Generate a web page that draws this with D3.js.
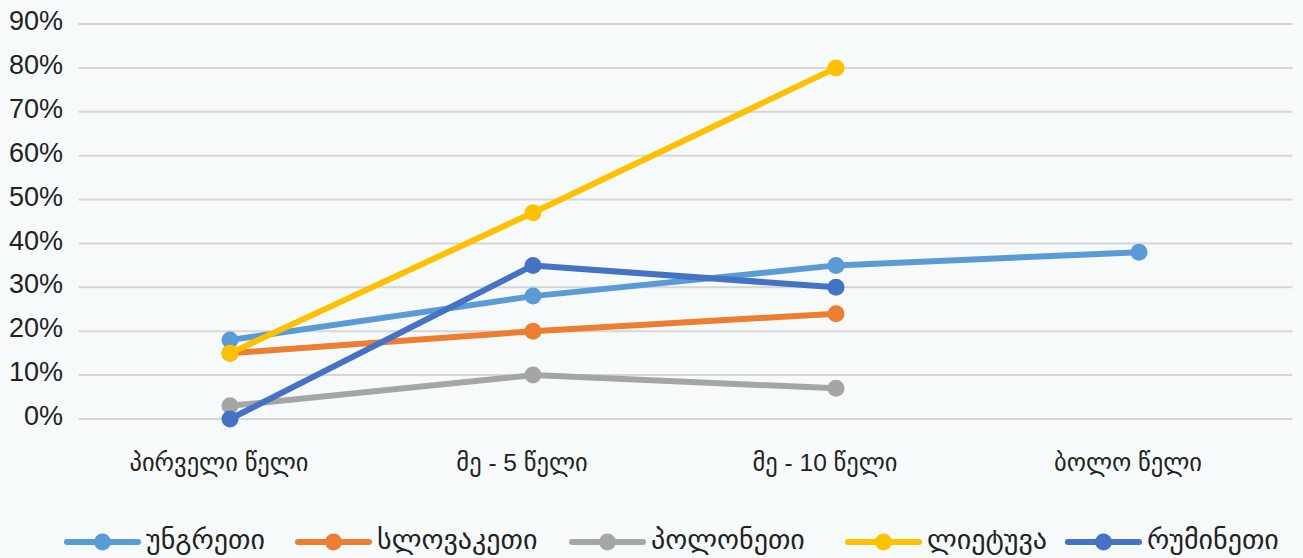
<!DOCTYPE html>
<html>
<head>
<meta charset="utf-8">
<script src="https://cdn.jsdelivr.net/npm/d3@7"></script>
<style>
  html, body { margin: 0; padding: 0; background: #f7fafb; }
  svg { display: block; }
  text { font-family: "Liberation Sans", Arial, "DejaVu Sans", sans-serif; fill: #222; }
</style>
</head>
<body>
<svg id="chart" width="1303" height="558"></svg>
<script>
// Categories (x axis) and y tick values
const categories = ["პირველი წელი", "მე - 5 წელი", "მე - 10 წელი", "ბოლო წელი"];
const yTicks = [0, 10, 20, 30, 40, 50, 60, 70, 80, 90];

// Series (percent values per category; null = no data)
const seriesNames = ["უნგრეთი", "სლოვაკეთი", "პოლონეთი", "ლიეტუვა", "რუმინეთი"];
const seriesColors = ["#5b9bd5", "#ed7d31", "#a5a5a5", "#ffc000", "#4472c4"];
const hungary   = [18, 28, 35, 38];
const slovakia  = [15, 20, 24, null];
const poland    = [3, 10, 7, null];
const lithuania = [15, 47, 80, null];
const romania   = [0, 35, 30, null];
const seriesValues = [hungary, slovakia, poland, lithuania, romania];

const svg = d3.select("#chart");
const plot = { left: 78.5, right: 1290.5, top: 24, bottom: 419 };

const x = d3.scaleBand().domain(categories).range([plot.left, plot.right]);
const y = d3.scaleLinear().domain([0, 90]).range([plot.bottom, plot.top]);

// Horizontal gridlines
svg.append("g").selectAll("line").data(yTicks).join("line")
  .attr("x1", plot.left).attr("x2", plot.right + 2)
  .attr("y1", d => y(d)).attr("y2", d => y(d))
  .attr("stroke", "#d6d6d6").attr("stroke-width", 2);

// Y axis labels
svg.append("g").selectAll("text").data(yTicks).join("text")
  .attr("x", 63).attr("y", d => y(d) - 1)
  .attr("text-anchor", "end").attr("dominant-baseline", "middle")
  .attr("font-size", 27)
  .text(d => d + "%");

// X axis labels (set slightly left of the band centre)
svg.append("g").selectAll("text").data(categories).join("text")
  .attr("x", d => x(d) + x.bandwidth() / 2 - 11).attr("y", 465)
  .attr("text-anchor", "middle").attr("dominant-baseline", "middle")
  .attr("font-size", 24.5)
  .text(d => d);

// Lines and markers
const line = d3.line()
  .defined(d => d.v !== null)
  .x(d => x(d.c) + x.bandwidth() / 2)
  .y(d => y(d.v));

seriesValues.forEach((vals, i) => {
  const pts = vals.map((v, j) => ({ c: categories[j], v }));
  const g = svg.append("g");
  g.append("path").datum(pts)
    .attr("d", line)
    .attr("fill", "none")
    .attr("stroke", seriesColors[i])
    .attr("stroke-width", 6)
    .attr("stroke-linejoin", "round")
    .attr("stroke-linecap", "round");
  g.selectAll("circle").data(pts.filter(p => p.v !== null)).join("circle")
    .attr("cx", d => x(d.c) + x.bandwidth() / 2)
    .attr("cy", d => y(d.v))
    .attr("r", 8.5)
    .attr("fill", seriesColors[i]);
});

// Legend
const legendX = [67, 298, 572, 848, 1068];
const legend = svg.append("g");
seriesNames.forEach((name, i) => {
  const lx = legendX[i];
  const ly = 542;
  legend.append("line")
    .attr("x1", lx).attr("x2", lx + 71)
    .attr("y1", ly).attr("y2", ly)
    .attr("stroke", seriesColors[i]).attr("stroke-width", 6)
    .attr("stroke-linecap", "round");
  legend.append("circle")
    .attr("cx", lx + 35.5).attr("cy", ly).attr("r", 8.5)
    .attr("fill", seriesColors[i]);
  legend.append("text")
    .attr("x", lx + 79).attr("y", ly)
    .attr("dominant-baseline", "middle")
    .attr("font-size", 28)
    .text(name);
});
</script>
</body>
</html>
